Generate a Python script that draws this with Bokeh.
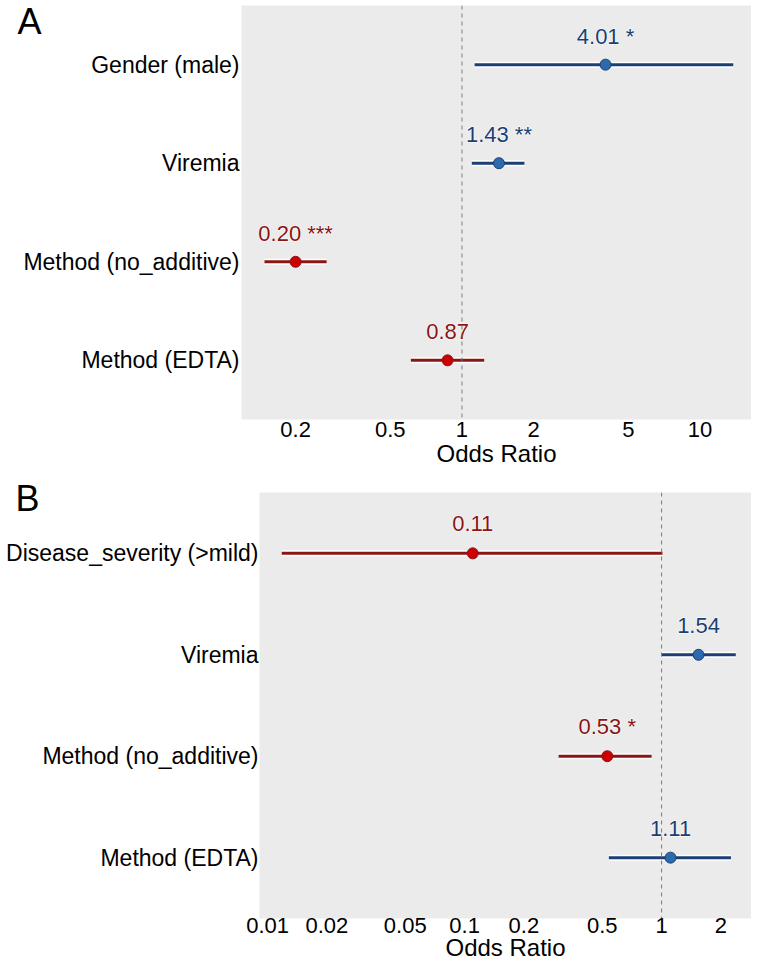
from bokeh.plotting import figure
from bokeh.models import Range1d, FixedTicker, Span, LinearAxis
from bokeh.core.properties import value
from bokeh.embed import file_html
from bokeh.resources import INLINE

# ---------------- data ----------------
a_labels = ["Gender (male)", "Viremia", "Method (no_additive)", "Method (EDTA)"]
a_or = [4.01, 1.43, 0.20, 0.87]
a_lo = [1.13, 1.10, 0.148, 0.61]
a_hi = [13.8, 1.83, 0.27, 1.24]
a_stars = ["*", "**", "***", ""]
a_ticks = [0.2, 0.5, 1, 2, 5, 10]
a_tick_labels = ["0.2", "0.5", "1", "2", "5", "10"]

b_labels = ["Disease_severity (>mild)", "Viremia", "Method (no_additive)", "Method (EDTA)"]
b_or = [0.11, 1.54, 0.53, 1.11]
b_lo = [0.0118, 1.0, 0.30, 0.54]
b_hi = [1.01, 2.38, 0.89, 2.25]
b_stars = ["", "", "*", ""]
b_ticks = [0.01, 0.02, 0.05, 0.1, 0.2, 0.5, 1, 2]
b_tick_labels = ["0.01", "0.02", "0.05", "0.1", "0.2", "0.5", "1", "2"]

BLUE_LINE = "#1b3f73"
BLUE_PT = "#2a6aad"
RED_LINE = "#8b1414"
RED_PT = "#cc0000"
FONT = "Liberation Sans"


def panel(labels, ors, los, his, stars, ticks, tick_labels, xr, frame_w, frame_h,
          left, top, bottom, ylab_size, ylab_standoff, letter, letter_y, letter_standoff,
          tick_standoff, label_standoff):
    n = len(labels)
    ys = list(range(n - 1, -1, -1))
    p = figure(x_axis_type="log", x_range=Range1d(*xr), y_range=Range1d(-0.6, n - 0.4),
               frame_width=frame_w, frame_height=frame_h,
               output_backend="svg", toolbar_location=None,
               min_border_left=left, min_border_right=0, min_border_top=top,
               min_border_bottom=bottom)
    p.background_fill_color = "#ebebeb"
    p.border_fill_color = "white"
    p.outline_line_color = None
    p.xgrid.grid_line_color = None
    p.ygrid.grid_line_color = None

    p.add_layout(Span(location=1, dimension="height", line_color="#7a7a7a",
                      line_dash="4 4", line_width=1))

    line_cols = [BLUE_LINE if o > 1 else RED_LINE for o in ors]
    pt_cols = [BLUE_PT if o > 1 else RED_PT for o in ors]
    p.segment(x0=los, y0=ys, x1=his, y1=ys, line_color="white", line_width=6)
    p.segment(x0=los, y0=ys, x1=his, y1=ys, line_color=line_cols, line_width=3)
    p.scatter(x=ors, y=ys, size=11, fill_color=pt_cols, line_color=line_cols,
              line_width=1)

    texts = [("%.2f" % o) + ((" " + s) if s else "") for o, s in zip(ors, stars)]
    ty = [y + 0.29 for y in ys]
    # white halo, then coloured text on top
    p.text(x=ors, y=ty, text=texts, text_align="center", text_baseline="middle",
           text_font=value(FONT), text_font_size="22px", text_color="white",
           text_outline_color="white")
    p.text(x=ors, y=ty, text=texts, text_align="center", text_baseline="middle",
           text_font=value(FONT), text_font_size="22px", text_color=line_cols)

    p.xaxis.ticker = FixedTicker(ticks=ticks)
    p.xaxis.major_label_overrides = {t: l for t, l in zip(ticks, tick_labels)}
    p.xaxis.axis_label = "Odds Ratio"
    p.yaxis.ticker = FixedTicker(ticks=ys)
    p.yaxis.major_label_overrides = {y: l for y, l in zip(ys, labels)}

    # panel letter as an outer left axis with one labelled tick
    lax = LinearAxis(ticker=FixedTicker(ticks=[letter_y]),
                     major_label_overrides={letter_y: letter})
    p.add_layout(lax, "left")

    for ax in (p.xaxis[0], p.yaxis[0], lax):
        ax.axis_line_color = None
        ax.major_tick_line_color = None
        ax.minor_tick_line_color = None
        ax.major_tick_out = 0
        ax.major_tick_in = 0
        ax.minor_tick_out = 0
        ax.minor_tick_in = 0
        ax.major_label_text_font = FONT
        ax.major_label_text_color = "black"
    p.xaxis.major_label_text_font_size = "22px"
    p.xaxis.major_label_standoff = tick_standoff
    p.yaxis[0].major_label_text_font_size = ylab_size
    p.yaxis[0].major_label_standoff = ylab_standoff
    lax.major_label_text_font_size = "36px"
    lax.major_label_standoff = letter_standoff
    p.xaxis.axis_label_text_font = FONT
    p.xaxis.axis_label_text_font_size = "24px"
    p.xaxis.axis_label_text_font_style = "normal"
    p.xaxis.axis_label_text_color = "black"
    p.xaxis.axis_label_standoff = label_standoff
    return p


pA = panel(a_labels, a_or, a_lo, a_hi, a_stars, a_ticks, a_tick_labels,
           (0.1185, 16.46), 510, 414, 241, 5, 58, "23px", 2, "A", 3.44, -21, 2, 0)
pB = panel(b_labels, b_or, b_lo, b_hi, b_stars, b_ticks, b_tick_labels,
           (0.0091, 2.86), 492, 426, 259, 15, 10, "23px", 1, "B", 3.54, -36, -1, -2)

open("out.html", "w").write(file_html([pA, pB], INLINE))
